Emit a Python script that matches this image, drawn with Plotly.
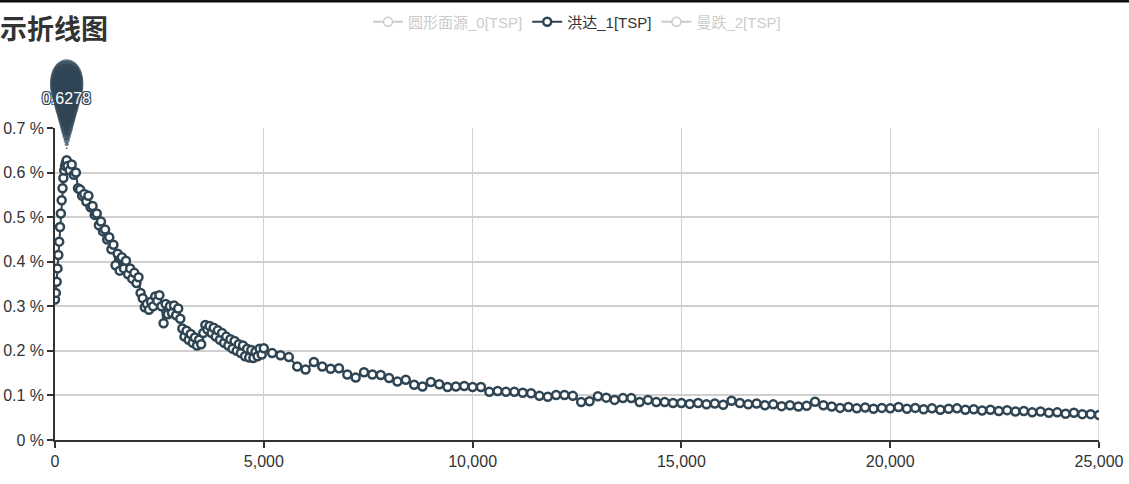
import plotly.graph_objects as go

# ---------------- data ----------------
series_names = ["圆形面源_0[TSP]", "洪达_1[TSP]", "曼跌_2[TSP]"]
chart_title = "示折线图"

# rise segment (x every 20)
x_rise = list(range(0, 300, 20))
y_rise = [0.315, 0.330, 0.355, 0.385, 0.415, 0.445, 0.478, 0.508, 0.538, 0.565,
          0.588, 0.605, 0.615, 0.622, 0.6278]

# dense segment (x every 50)
x_dense = list(range(300, 5001, 50))
y_dense = [0.615, 0.605, 0.618, 0.595, 0.600, 0.565, 0.562, 0.548, 0.552, 0.535,
           0.548, 0.522, 0.525, 0.505, 0.508, 0.482, 0.490, 0.468, 0.472, 0.450,
           0.455, 0.428, 0.438, 0.392, 0.418, 0.380, 0.410, 0.385, 0.402, 0.372,
           0.385, 0.362, 0.375, 0.352, 0.365, 0.330, 0.318, 0.298, 0.305, 0.292,
           0.310, 0.300, 0.322, 0.312, 0.325, 0.300, 0.262, 0.305, 0.282, 0.300,
           0.285, 0.302, 0.280, 0.295, 0.272, 0.250, 0.232, 0.245, 0.225, 0.238,
           0.218, 0.230, 0.212, 0.225, 0.215, 0.240, 0.258, 0.248, 0.256, 0.240,
           0.252, 0.232, 0.246, 0.225, 0.240, 0.218, 0.232, 0.212, 0.226, 0.205,
           0.222, 0.200, 0.215, 0.195, 0.212, 0.188, 0.205, 0.185, 0.202, 0.184,
           0.198, 0.188, 0.205, 0.192, 0.206]

# sparse segment (x every 200)
x_sparse = list(range(5200, 25001, 200))
y_sparse = [0.195, 0.190, 0.186, 0.165, 0.158, 0.175, 0.165, 0.160, 0.161, 0.147,
            0.140, 0.152, 0.147, 0.146, 0.139, 0.131, 0.135, 0.124, 0.120, 0.130,
            0.125, 0.119, 0.120, 0.121, 0.119, 0.119, 0.108, 0.110, 0.108, 0.108,
            0.106, 0.105, 0.099, 0.097, 0.101, 0.101, 0.099, 0.085, 0.087, 0.098,
            0.095, 0.090, 0.094, 0.094, 0.085, 0.090, 0.085, 0.085, 0.083, 0.083,
            0.081, 0.083, 0.080, 0.082, 0.079, 0.088, 0.083, 0.080, 0.082, 0.078,
            0.080, 0.076, 0.078, 0.075, 0.077, 0.086, 0.078, 0.075, 0.072, 0.074,
            0.071, 0.073, 0.070, 0.072, 0.071, 0.074, 0.070, 0.072, 0.069, 0.071,
            0.068, 0.070, 0.071, 0.068, 0.069, 0.066, 0.068, 0.065, 0.067, 0.064,
            0.065, 0.062, 0.064, 0.061, 0.062, 0.059, 0.061, 0.058, 0.058, 0.056]

x_vals = x_rise + x_dense + x_sparse
y_vals = y_rise + y_dense + y_sparse

x_ticks = [0, 5000, 10000, 15000, 20000, 25000]
y_ticks = [0, 0.1, 0.2, 0.3, 0.4, 0.5, 0.6, 0.7]
y_tick_text = ["0 %", "0.1 %", "0.2 %", "0.3 %", "0.4 %", "0.5 %", "0.6 %", "0.7 %"]

# ---------------- style ----------------
DARK = "#2f4554"
GRID = "#d0d0d0"
FONT = "Liberation Sans, Arial, Noto Sans CJK SC, sans-serif"
W, H = 1129, 484
ML, MR, MT, MB = 55, 30, 128, 44

fig = go.Figure()

# hidden (legend-only) series
fig.add_trace(go.Scatter(
    x=[None], y=[None], name='<span style="color:#999">' + series_names[0] + '</span>',
    mode="lines+markers", visible="legendonly",
    line=dict(color="#999", width=2),
    marker=dict(symbol="circle", size=9, color="white", line=dict(color="#999", width=1.5)),
))

fig.add_trace(go.Scatter(
    x=x_vals, y=y_vals, name=series_names[1],
    mode="lines+markers",
    line=dict(color=DARK, width=2),
    marker=dict(symbol="circle", size=8, color="white", line=dict(color=DARK, width=2.5)),
))

fig.add_trace(go.Scatter(
    x=[None], y=[None], name='<span style="color:#999">' + series_names[2] + '</span>',
    mode="lines+markers", visible="legendonly",
    line=dict(color="#999", width=2),
    marker=dict(symbol="circle", size=9, color="white", line=dict(color="#999", width=1.5)),
))

# max mark-point pin (built from stacked circles pushed upward from the max point)
i_max = max(range(len(y_vals)), key=lambda i: y_vals[i])
x_max, y_max = x_vals[i_max], y_vals[i_max]
pin_offsets = [4, 8, 12, 16, 20, 24, 28, 32, 36, 40, 44, 48, 52, 56, 60, 64, 68, 72, 76, 80]
pin_sizes = [2, 4, 6, 8.3, 10.3, 12.4, 14.4, 16.5, 18.6, 20.6, 22.7, 24.8, 26.8, 28.9, 31, 33, 33.5, 33, 31, 26]
gap = 8
fig.add_trace(go.Scatter(
    x=[x_max] * len(pin_offsets), y=[y_max] * len(pin_offsets),
    mode="markers", showlegend=False, hoverinfo="skip", cliponaxis=False,
    marker=dict(symbol="circle", size=pin_sizes, color=DARK, line=dict(width=0),
                angle=180, standoff=[o + gap for o in pin_offsets]),
))

fig.add_annotation(
    x=x_max, y=y_max, xref="x", yref="y", showarrow=False,
    text="{:.4f}".format(y_max), yshift=62,
    font=dict(family=FONT, size=16, color="white",
              shadow="1px 1px 0 #2f4554, -1px -1px 0 #2f4554, 1px -1px 0 #2f4554, -1px 1px 0 #2f4554"),
)

# vertical grid line at the right end of the x axis
fig.add_shape(type="line", xref="x", yref="paper", x0=x_ticks[-1], x1=x_ticks[-1], y0=0, y1=1,
              line=dict(color=GRID, width=1.5), layer="below")

# top border line of the screenshot
plot_h = H - MT - MB
fig.add_shape(type="line", xref="paper", yref="paper",
              x0=-0.2, x1=1.2, y0=1 + (MT - 1) / plot_h, y1=1 + (MT - 1) / plot_h,
              line=dict(color="#111", width=3))

fig.update_layout(
    width=W, height=H,
    margin=dict(l=ML, r=MR, t=MT, b=MB, autoexpand=False),
    paper_bgcolor="white", plot_bgcolor="white",
    font=dict(family=FONT, color="#333"),
    title=dict(text="<b>" + chart_title + "</b>", x=0, xref="container", xanchor="left",
               y=1 - 30 / H, yref="container", yanchor="middle", pad=dict(l=0, r=0, t=0, b=0),
               font=dict(family="Noto Sans CJK SC, sans-serif", size=27, color="#333")),
    legend=dict(orientation="h", x=0.5, xanchor="center", xref="paper",
                y=1 - 22 / H, yref="container", yanchor="middle",
                font=dict(size=15, color="#333"), itemwidth=30,
                bgcolor="rgba(0,0,0,0)"),
    showlegend=True,
    xaxis=dict(range=[0, 25000], tickmode="array", tickvals=x_ticks, tickformat=",d",
               automargin=False,
               showgrid=True, gridcolor=GRID, gridwidth=1,
               showline=True, linecolor="#333", linewidth=2,
               ticks="outside", ticklen=6, tickcolor="#333", tickwidth=1.5,
               tickfont=dict(size=16, color="#333"), zeroline=False),
    yaxis=dict(range=[0, 0.7], tickmode="array", tickvals=y_ticks, ticktext=y_tick_text,
               automargin=False,
               showgrid=True, gridcolor=GRID, gridwidth=1.5,
               showline=True, linecolor="#333", linewidth=1.5,
               ticks="outside", ticklen=6, tickcolor="#333", tickwidth=1.5,
               tickfont=dict(size=16, color="#333"), zeroline=False),
)

fig.write_html("out.html", config={"displayModeBar": False},
               post_script="document.body.style.margin='0';")
